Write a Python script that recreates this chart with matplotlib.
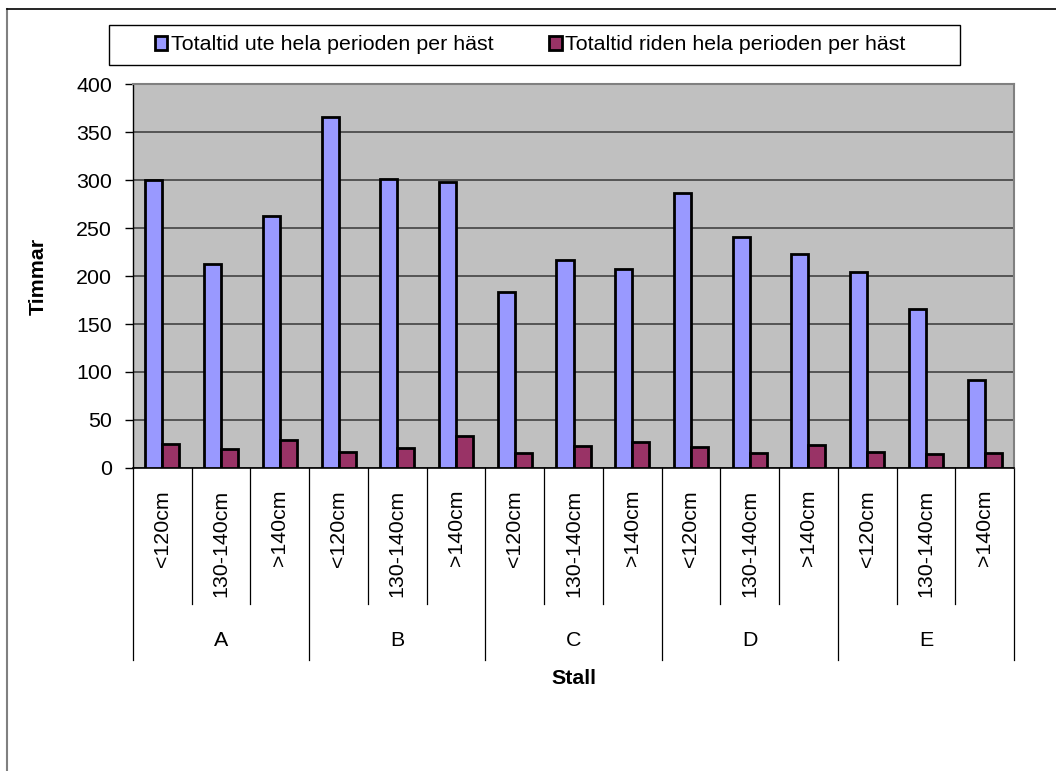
import matplotlib
matplotlib.use('Agg')
import matplotlib.pyplot as plt
from matplotlib.lines import Line2D
from matplotlib.patches import Rectangle
import matplotlib.transforms as mtransforms
import numpy as np

plt.rcParams['font.family'] = ['Liberation Sans', 'DejaVu Sans']

# ---- data ----
stalls = ['A', 'B', 'C', 'D', 'E']
sizes = ['<120cm', '130-140cm', '>140cm']
ute = [300, 212, 263, 366, 301, 298, 183, 217, 207, 286, 241, 223, 204, 166, 92]
riden = [25, 20, 29, 17, 21, 33, 16, 23, 27, 22, 16, 24, 17, 15, 16]
series_names = ['Totaltid ute hela perioden per häst',
                'Totaltid riden hela perioden per häst']
yticks = [0, 50, 100, 150, 200, 250, 300, 350, 400]
ylabel = 'Timmar'
xlabel = 'Stall'

W, H = 1056, 771
fig = plt.figure(figsize=(W / 100, H / 100), dpi=100)
fig.patch.set_facecolor('white')
FS = 15.4


def fx(p):
    return p / W


def fy(p):
    return 1 - p / H


ax = fig.add_axes([fx(133), fy(468), (1014 - 133) / W, (468 - 84) / H])
ax.set_facecolor('#C0C0C0')

n = len(stalls) * len(sizes)
x = np.arange(n) + 0.5
bw = 0.29
b1 = ax.bar(x - bw / 2, ute, bw, color='#9999FF', edgecolor='black', linewidth=2.0,
            zorder=3, label=series_names[0])
b2 = ax.bar(x + bw / 2, riden, bw, color='#993366', edgecolor='black', linewidth=2.0,
            zorder=3, label=series_names[1])

ax.set_xlim(0, n)
ax.set_ylim(yticks[0], yticks[-1])
ax.set_yticks(yticks)
ax.set_yticklabels([str(t) for t in yticks])
ax.yaxis.grid(True, color='#555555', linewidth=1.4, zorder=1)
ax.set_axisbelow(True)
ax.set_xticks([])
ax.tick_params(axis='y', length=6, width=1, pad=9, labelsize=FS, color='black')

ax.spines['left'].set_color('black')
ax.spines['left'].set_linewidth(1)
ax.spines['bottom'].set_color('black')
ax.spines['bottom'].set_linewidth(1.2)
ax.spines['top'].set_color('#808080')
ax.spines['top'].set_linewidth(1.5)
ax.spines['right'].set_color('#808080')
ax.spines['right'].set_linewidth(1.5)

# multi-level category axis
trans = mtransforms.blended_transform_factory(ax.transData, fig.transFigure)
ng = len(sizes)
for b in range(n + 1):
    bottom = fy(660) if b % ng == 0 else fy(604)
    ax.add_line(Line2D([b, b], [fy(468), bottom], transform=trans, color='black',
                       linewidth=0.9, clip_on=False))
for i in range(n):
    ax.text(x[i], fy(490), sizes[i % ng], transform=trans, rotation=90,
            ha='center', va='top', fontsize=FS, clip_on=False)
for g, name in enumerate(stalls):
    ax.text(g * ng + ng / 2, fy(641), name, transform=trans, ha='center',
            va='center', fontsize=FS, clip_on=False)

fig.text(fx(574), fy(679), xlabel, ha='center', va='center', fontsize=FS,
         fontweight='bold')
fig.text(fx(38), fy(276), ylabel, ha='center', va='center', fontsize=FS,
         fontweight='bold', rotation=90)

# legend
fig.add_artist(Rectangle((fx(109), fy(65)), (960 - 109) / W, (65 - 25) / H,
                         transform=fig.transFigure, fill=False, edgecolor='black',
                         linewidth=1))
fig.legend([b1, b2], series_names, loc='center', bbox_to_anchor=(fx(530), fy(45)),
           ncol=2, frameon=False, fontsize=FS, handlelength=0.6, handleheight=0.6,
           handletextpad=0.15, columnspacing=2.6, borderpad=0.2)

# outer chart border (top and left visible)
fig.add_artist(Line2D([fx(7), fx(7)], [fy(9), 0], transform=fig.transFigure,
                      color='#808080', linewidth=1.5))
fig.add_artist(Line2D([fx(7), 1], [fy(9), fy(9)], transform=fig.transFigure,
                      color='black', linewidth=1.2))

fig.savefig('out.png', dpi=100)
